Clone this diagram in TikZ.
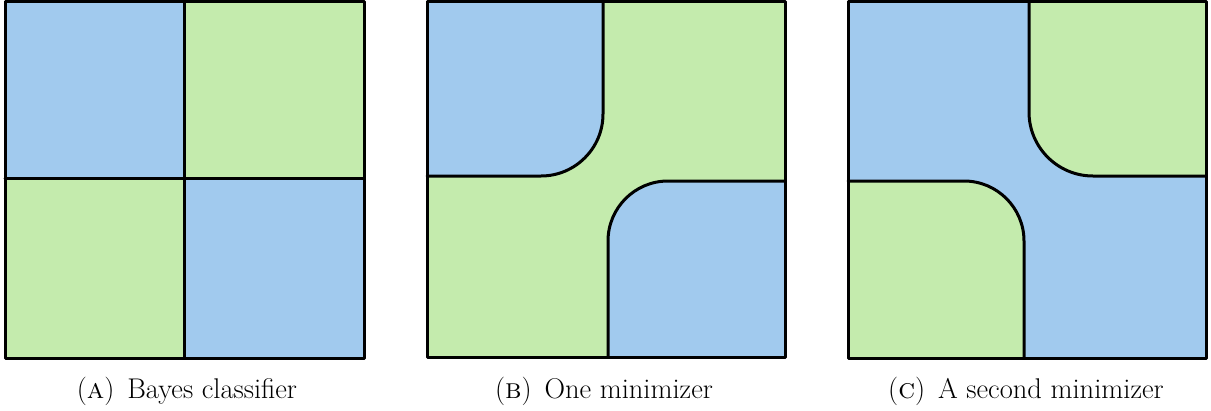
\documentclass[tikz,border=0pt]{standalone}
\definecolor{cblue}{RGB}{161,202,238}
\definecolor{cgreen}{RGB}{196,235,173}
\tikzset{
  edge/.style={line width=3pt, line join=round, line cap=round, black},
  captext/.style={font=\fontsize{28.5}{33}\selectfont, anchor=base, inner sep=0pt}
}
\begin{document}
\begin{tikzpicture}[x=1pt,y=-1pt]
\useasboundingbox (0,0) rectangle (1211,410);
% Panel A
\fill[cblue]  (5,1) rectangle (184,178);
\fill[cgreen] (184,1) rectangle (364,178);
\fill[cgreen] (5,178) rectangle (184,358);
\fill[cblue]  (184,178) rectangle (364,358);
\draw[edge] (5,1) rectangle (364,358);
\draw[edge] (184,1) -- (184,358);
\draw[edge] (5,178) -- (364,178);
% Panel B
\fill[cgreen] (427,1) rectangle (785,357);
\fill[cblue] (603,1) [rounded corners=62pt] -- (603,176) [sharp corners] -- (427,176) -- (427,1) -- cycle;
\fill[cblue] (785,181) [rounded corners=60pt] -- (608,181) [sharp corners] -- (608,357) -- (785,357) -- cycle;
\draw[edge] (603,1) [rounded corners=62pt] -- (603,176) [sharp corners] -- (427,176);
\draw[edge] (785,181) [rounded corners=60pt] -- (608,181) [sharp corners] -- (608,357);
\draw[edge] (427,1) rectangle (785,357);
% Panel C
\fill[cblue] (848,1) rectangle (1206,358);
\fill[cgreen] (1029,1) [rounded corners=64pt] -- (1029,176) [sharp corners] -- (1206,176) -- (1206,1) -- cycle;
\fill[cgreen] (848,181) [rounded corners=60pt] -- (1024,181) [sharp corners] -- (1024,358) -- (848,358) -- cycle;
\draw[edge] (1029,1) [rounded corners=64pt] -- (1029,176) [sharp corners] -- (1206,176);
\draw[edge] (848,181) [rounded corners=60pt] -- (1024,181) [sharp corners] -- (1024,358);
\draw[edge] (848,1) rectangle (1206,358);
% Captions
\node[captext] (ca) at (187,398) {(\textsc{a})\hspace{0.45em}Bayes classifier};
\node[captext] (cb) at (604,398) {(\textsc{b})\hspace{0.45em}One minimizer};
\node[captext] (cc) at (1026,398) {(\textsc{c})\hspace{0.45em}A second minimizer};
\end{tikzpicture}
\end{document}
